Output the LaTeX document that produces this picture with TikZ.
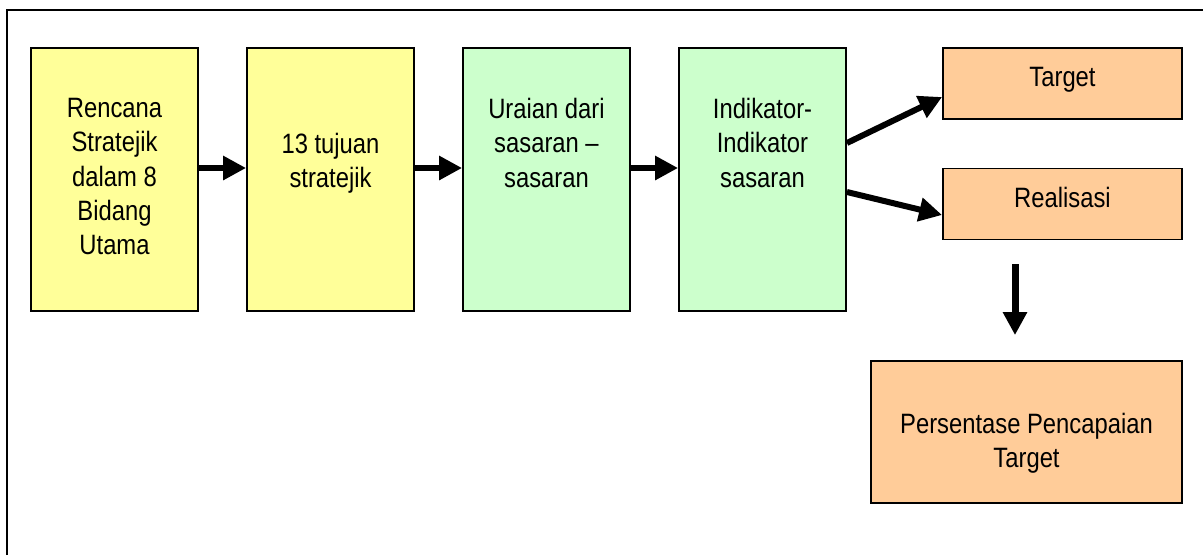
\documentclass[tikz,border=0pt]{standalone}
\usepackage{fontspec}
\setmainfont{Liberation Sans}[FakeStretch=0.85]
\usetikzlibrary{arrows.meta}
\definecolor{kuning}{HTML}{FFFF99}
\definecolor{hijau}{HTML}{CCFFCC}
\definecolor{jingga}{HTML}{FFCC99}
% width, height, gap above the first line, text
\newcommand{\isi}[4]{\parbox[c][#2][t]{#1}{\centering\vspace*{#3}#4}}
\tikzstyle{tinggi} = [rectangle, minimum width=167pt, minimum height=263pt, inner sep=0pt, draw=black, line width=1.8pt, font=\fontsize{28}{34.4}\selectfont]
\tikzstyle{hasil} = [rectangle, minimum width=239pt, minimum height=71pt, inner sep=0pt, draw=black, line width=1.8pt, fill=jingga, font=\fontsize{28}{34.4}\selectfont]
\tikzstyle{arrow} = [line width=6pt,-{Triangle[length=23pt,width=23pt]}]

\begin{document}
\begin{tikzpicture}[x=1pt, y=-1pt, node distance=216pt]
	\useasboundingbox (0,0) rectangle (1203,555);
	\draw [line width=2pt] (6.5,555) -- (6.5,10) -- (1203,10);

	\node (rencana) [tinggi, fill=kuning] at (114.5,179.5) {\isi{160pt}{263pt}{50pt}{Rencana\\Stratejik\\dalam 8\\Bidang\\Utama}};
	\node (tujuan) [tinggi, fill=kuning, right of=rencana] {\isi{160pt}{263pt}{85pt}{13 tujuan\\stratejik}};
		\draw [arrow] ([yshift=11.5pt]rencana.east) -- ([yshift=11.5pt]tujuan.west);
	\node (uraian) [tinggi, fill=hijau, right of=tujuan] {\isi{160pt}{263pt}{50pt}{Uraian dari\\sasaran –\\sasaran}};
		\draw [arrow] ([yshift=11.5pt]tujuan.east) -- ([yshift=11.5pt]uraian.west);
	\node (indikator) [tinggi, fill=hijau, right of=uraian] {\isi{160pt}{263pt}{50pt}{Indikator-\\Indikator\\sasaran}};
		\draw [arrow] ([yshift=11.5pt]uraian.east) -- ([yshift=11.5pt]indikator.west);

	\node (target) [hasil, right of=indikator, xshift=84pt, yshift=96pt] {\isi{230pt}{71pt}{19pt}{Target}};
		\draw [arrow] ([yshift=36.5pt]indikator.east) -- ([yshift=-13.5pt]target.west);
	\node (realisasi) [hasil, right of=indikator, xshift=84pt, yshift=-24.5pt] {\isi{230pt}{71pt}{19pt}{Realisasi}};
		\draw [arrow] ([yshift=-12.5pt]indikator.east) -- ([yshift=-11pt]realisasi.west);
	\node (persen) [hasil, minimum width=311pt, minimum height=142pt, right of=indikator, xshift=48pt, yshift=-252.5pt] {\isi{300pt}{142pt}{52pt}{Persentase Pencapaian\\Target}};
		\draw [arrow, line width=7pt, shorten <=24pt, shorten >=25pt] ([xshift=-47.5pt]realisasi.south) -- ([xshift=-11.5pt]persen.north);

\end{tikzpicture}
\end{document}
